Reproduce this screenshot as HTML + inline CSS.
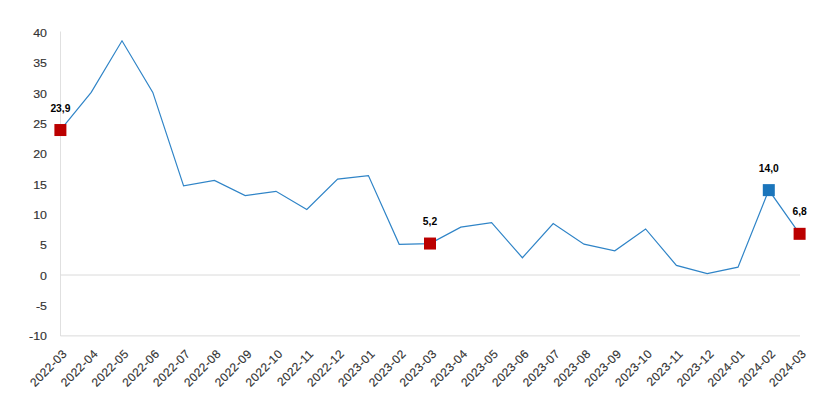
<!DOCTYPE html>
<html><head><meta charset="utf-8"><style>
html,body{margin:0;padding:0;background:#fff;width:832px;height:403px;overflow:hidden}
svg{display:block}
.yl{font-family:"Liberation Sans",sans-serif;font-size:11.5px;fill:#333;stroke:#333;stroke-width:0.15px}
.xl{font-family:"Liberation Sans",sans-serif;font-size:12px;fill:#333;stroke:#333;stroke-width:0.15px;letter-spacing:0.35px}
.dl{font-family:"Liberation Sans",sans-serif;font-size:10.3px;font-weight:bold;fill:#000}
</style></head><body>
<svg width="832" height="403" viewBox="0 0 832 403">
<line x1="60.5" y1="31.5" x2="60.5" y2="336" stroke="#e0e0e0" stroke-width="1"/>
<line x1="60.5" y1="275" x2="800" y2="275" stroke="#dadada" stroke-width="1"/>
<line x1="60.5" y1="335.9" x2="800" y2="335.9" stroke="#dadada" stroke-width="1"/>
<text text-anchor="end" class="yl" transform="translate(47,340.40) scale(1.08,1)">-10</text>
<text text-anchor="end" class="yl" transform="translate(47,310.05) scale(1.08,1)">-5</text>
<text text-anchor="end" class="yl" transform="translate(47,279.70) scale(1.08,1)">0</text>
<text text-anchor="end" class="yl" transform="translate(47,249.35) scale(1.08,1)">5</text>
<text text-anchor="end" class="yl" transform="translate(47,219.00) scale(1.08,1)">10</text>
<text text-anchor="end" class="yl" transform="translate(47,188.65) scale(1.08,1)">15</text>
<text text-anchor="end" class="yl" transform="translate(47,158.30) scale(1.08,1)">20</text>
<text text-anchor="end" class="yl" transform="translate(47,127.95) scale(1.08,1)">25</text>
<text text-anchor="end" class="yl" transform="translate(47,97.60) scale(1.08,1)">30</text>
<text text-anchor="end" class="yl" transform="translate(47,67.25) scale(1.08,1)">35</text>
<text text-anchor="end" class="yl" transform="translate(47,36.90) scale(1.08,1)">40</text>
<text text-anchor="end" class="xl" transform="translate(67.80,354.6) rotate(-45)">2022-03</text>
<text text-anchor="end" class="xl" transform="translate(98.60,354.6) rotate(-45)">2022-04</text>
<text text-anchor="end" class="xl" transform="translate(129.40,354.6) rotate(-45)">2022-05</text>
<text text-anchor="end" class="xl" transform="translate(160.20,354.6) rotate(-45)">2022-06</text>
<text text-anchor="end" class="xl" transform="translate(191.00,354.6) rotate(-45)">2022-07</text>
<text text-anchor="end" class="xl" transform="translate(221.80,354.6) rotate(-45)">2022-08</text>
<text text-anchor="end" class="xl" transform="translate(252.60,354.6) rotate(-45)">2022-09</text>
<text text-anchor="end" class="xl" transform="translate(283.40,354.6) rotate(-45)">2022-10</text>
<text text-anchor="end" class="xl" transform="translate(314.20,354.6) rotate(-45)">2022-11</text>
<text text-anchor="end" class="xl" transform="translate(345.00,354.6) rotate(-45)">2022-12</text>
<text text-anchor="end" class="xl" transform="translate(375.80,354.6) rotate(-45)">2023-01</text>
<text text-anchor="end" class="xl" transform="translate(406.60,354.6) rotate(-45)">2023-02</text>
<text text-anchor="end" class="xl" transform="translate(437.40,354.6) rotate(-45)">2023-03</text>
<text text-anchor="end" class="xl" transform="translate(468.20,354.6) rotate(-45)">2023-04</text>
<text text-anchor="end" class="xl" transform="translate(499.00,354.6) rotate(-45)">2023-05</text>
<text text-anchor="end" class="xl" transform="translate(529.80,354.6) rotate(-45)">2023-06</text>
<text text-anchor="end" class="xl" transform="translate(560.60,354.6) rotate(-45)">2023-07</text>
<text text-anchor="end" class="xl" transform="translate(591.40,354.6) rotate(-45)">2023-08</text>
<text text-anchor="end" class="xl" transform="translate(622.20,354.6) rotate(-45)">2023-09</text>
<text text-anchor="end" class="xl" transform="translate(653.00,354.6) rotate(-45)">2023-10</text>
<text text-anchor="end" class="xl" transform="translate(683.80,354.6) rotate(-45)">2023-11</text>
<text text-anchor="end" class="xl" transform="translate(714.60,354.6) rotate(-45)">2023-12</text>
<text text-anchor="end" class="xl" transform="translate(745.40,354.6) rotate(-45)">2024-01</text>
<text text-anchor="end" class="xl" transform="translate(776.20,354.6) rotate(-45)">2024-02</text>
<text text-anchor="end" class="xl" transform="translate(807.00,354.6) rotate(-45)">2024-03</text>
<polyline points="60.40,130.03 91.20,92.39 122.00,40.80 152.80,92.39 183.60,185.87 214.40,180.41 245.20,195.58 276.00,191.33 306.80,209.54 337.60,179.19 368.40,175.55 399.20,244.33 430.00,243.54 460.80,227.15 491.60,222.59 522.40,257.74 553.20,223.51 584.00,244.14 614.80,250.82 645.60,228.97 676.40,265.39 707.20,273.70 738.00,267.21 768.80,190.12 799.60,233.82" fill="none" stroke="#2f84c7" stroke-width="1.2" stroke-linejoin="miter"/>
<rect x="54.40" y="124.03" width="12" height="12" fill="#bb0000"/>
<text x="60.40" y="111.63" text-anchor="middle" class="dl">23,9</text>
<rect x="424.00" y="237.54" width="12" height="12" fill="#bb0000"/>
<text x="430.00" y="225.14" text-anchor="middle" class="dl">5,2</text>
<rect x="762.80" y="184.12" width="12" height="12" fill="#1b75bb"/>
<text x="768.80" y="171.72" text-anchor="middle" class="dl">14,0</text>
<rect x="793.60" y="227.82" width="12" height="12" fill="#bb0000"/>
<text x="799.60" y="215.42" text-anchor="middle" class="dl">6,8</text>
</svg>
</body></html>
